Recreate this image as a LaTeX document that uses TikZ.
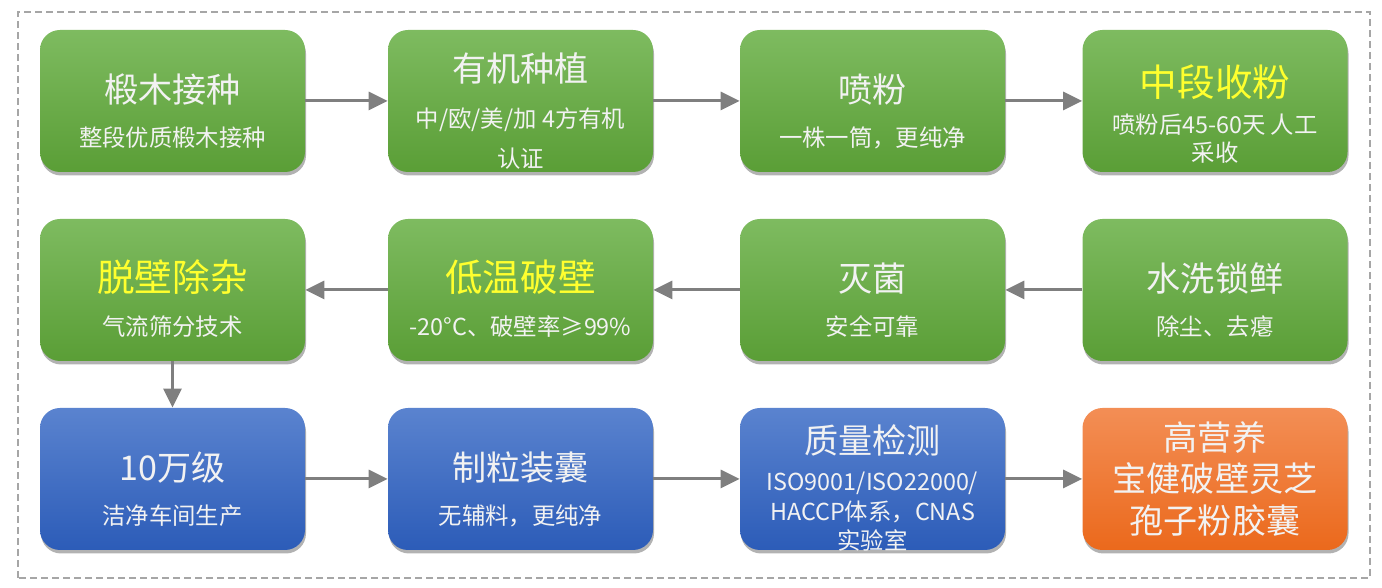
\documentclass[tikz,border=0pt]{standalone}
\usepackage{fontspec}
\setmainfont{Noto Sans CJK SC}
\usetikzlibrary{arrows.meta,shadows}

\definecolor{greentop}{HTML}{7EBB60}
\definecolor{greenbot}{HTML}{5A9E36}
\definecolor{bluetop}{HTML}{5A83CF}
\definecolor{bluebot}{HTML}{2C5CB8}
\definecolor{orangetop}{HTML}{F38E55}
\definecolor{orangebot}{HTML}{EB691C}
\definecolor{arrowgray}{HTML}{7F7F7F}
\definecolor{framegray}{HTML}{A6A6A6}
\definecolor{hiyellow}{HTML}{FFFF2E}

\newcommand{\ttltxt}[1]{{\rule{0pt}{28pt}\fontsize{19.4}{26}\selectfont #1}}
\newcommand{\ttlyel}[1]{{\rule{0pt}{28pt}\fontsize{21.4}{26}\selectfont\color{hiyellow}#1}}

\begin{document}
\begin{tikzpicture}[
  box/.style={minimum width=5.3cm, minimum height=2.84cm, rounded corners=0.4cm,
    inner ysep=0pt, align=center, text=white!95!black,
    font=\fontsize{13.3}{22.8}\selectfont,
    drop shadow={shadow xshift=0.02cm, shadow yshift=-0.07cm, opacity=0.3, fill=black}},
  greenbox/.style={box, top color=greentop, bottom color=greenbot},
  bluebox/.style={box, top color=bluetop, bottom color=bluebot},
  orangebox/.style={box, top color=orangetop, bottom color=orangebot,
    font=\fontsize{19.4}{23.4}\selectfont},
  link/.style={draw=arrowgray, line width=0.06cm,
    -{Triangle[length=0.38cm, width=0.36cm]}},
]
\useasboundingbox (0,0) rectangle (27.64,11.76);

% dashed frame
\draw[framegray, line width=0.04cm, dash pattern=on 0.14cm off 0.08cm]
    (0.36,0.2) rectangle (27.4,11.52);

% row 1
\node(u1)[greenbox] at (3.45, 9.74) {\ttltxt{椴木接种}\\[2.4pt]整段优质椴木接种};
\node(u2)[greenbox] at (10.41, 9.74) {\ttltxt{有机种植}\\[3.4pt]中/欧/美/加 4方有机\\认证};
\node(u3)[greenbox] at (17.45, 9.74) {\ttltxt{喷粉}\\[2.4pt]一株一筒，更纯净};
\node(u4)[greenbox] at (24.30, 9.74) {\rule{0pt}{33pt}\ttlyel{中段收粉}\\[-2pt]喷粉后45-60天 人工\\[-6.8pt]采收};

% row 2
\node(u5)[greenbox] at (24.30, 5.96) {\ttltxt{水洗锁鲜}\\[2.4pt]除尘、去瘪};
\node(u6)[greenbox] at (17.45, 5.96) {\ttltxt{灭菌}\\[2.4pt]安全可靠};
\node(u7)[greenbox] at (10.41, 5.96) {\ttlyel{低温破壁}\\[2.4pt]-20°C、破壁率≥99\%};
\node(u8)[greenbox] at (3.45, 5.96) {\ttlyel{脱壁除杂}\\[2.4pt]气流筛分技术};

% row 3
\node(u9)[bluebox] at (3.45, 2.18) {\ttltxt{10万级}\\[2.4pt]洁净车间生产};
\node(u10)[bluebox] at (10.41, 2.18) {\ttltxt{制粒装囊}\\[2.4pt]无辅料，更纯净};
\node(u11)[bluebox, text depth=-1.5pt] at (17.45, 2.18)
    {{\rule{0pt}{26pt}\fontsize{19.4}{26}\selectfont 质量检测}\\[-2pt]ISO9001/ISO22000/\\[-5.8pt]HACCP体系，CNAS\\[-5.8pt]实验室};
\node(u12)[orangebox] at (24.30, 2.18) {高营养\\宝健破壁灵芝\\孢子粉胶囊};

\draw[link] (u1)--(u2);
\draw[link] (u2)--(u3);
\draw[link] (u3)--(u4);
\draw[link] (u5)--(u6);
\draw[link] (u6)--(u7);
\draw[link] (u7)--(u8);
\draw[link] (u8)--(u9);
\draw[link] (u9)--(u10);
\draw[link] (u10)--(u11);
\draw[link] (u11)--(u12);
\end{tikzpicture}
\end{document}
